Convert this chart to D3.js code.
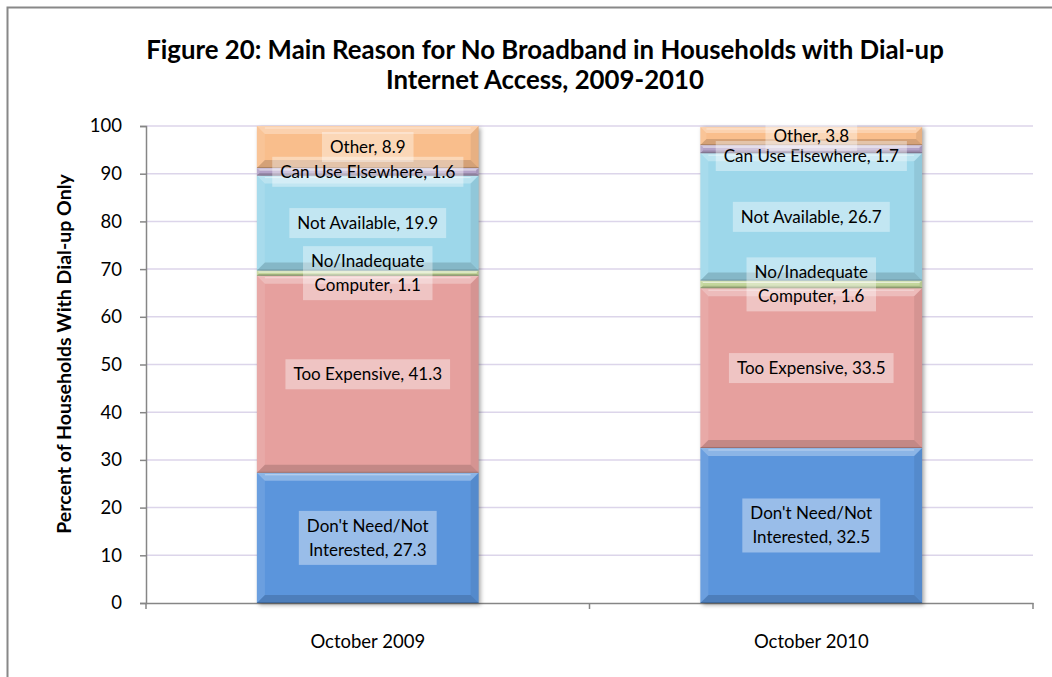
<!DOCTYPE html>
<html>
<head>
<meta charset="utf-8">
<script src="https://cdn.jsdelivr.net/npm/d3@7"></script>
<style>
  body { margin: 0; background: #fff; }
  svg { font-family: Lato, "Open Sans", sans-serif; }
  .tick text { font-family: Lato, "Open Sans", sans-serif; font-size: 18.5px; fill: #000; }
  .domain, .tick line { stroke: #868686; }
</style>
</head>
<body>
<div id="chart"></div>
<script>
// Chart data
const periods = ['October 2009', 'October 2010'];
const reasons = ["Don't Need/Not Interested", 'Too Expensive', 'No/Inadequate Computer',
                 'Not Available', 'Can Use Elsewhere', 'Other'];
// label lines per reason (Excel wraps the long ones)
const labelLines = [["Don't Need/Not", 'Interested'], ['Too Expensive'], ['No/Inadequate', 'Computer'],
                    ['Not Available'], ['Can Use Elsewhere'], ['Other']];
const values2009 = [27.3, 41.3, 1.1, 19.9, 1.6, 8.9];
const values2010 = [32.5, 33.5, 1.6, 26.7, 1.7, 3.8];
const colors = ['#5b95dc', '#e6a09e', '#c3d69b', '#9dd7ea', '#b3a2c7', '#f9be8c'];
const yTicks = [0, 10, 20, 30, 40, 50, 60, 70, 80, 90, 100];

const config = {
    width: 1052, height: 677,
    margin: {top: 126, right: 19, bottom: 74, left: 146},
    bevel: 8,
    lineHeight: 24,
    minLabelGap: 20
};

const innerWidth = config.width - config.margin.left - config.margin.right;
const innerHeight = config.height - config.margin.top - config.margin.bottom;

const svg = d3.select('#chart').append('svg')
    .attr('width', config.width)
    .attr('height', config.height);

// Outer frame (right and bottom edges fall outside the picture)
svg.append('path')
    .attr('d', `M7.5,${config.height} V7.5 H${config.width}`)
    .attr('fill', 'none').attr('stroke', '#888').attr('stroke-width', 2);

const defs = svg.append('defs');
defs.append('filter').attr('id', 'shadow')
    .attr('x', '-10%').attr('y', '-10%').attr('width', '130%').attr('height', '130%')
    .append('feGaussianBlur').attr('stdDeviation', 2);

// Title
svg.append('text')
    .attr('text-anchor', 'middle')
    .attr('font-weight', 'bold')
    .attr('font-size', '25.8px')
    .selectAll('tspan')
    .data(['Figure 20: Main Reason for No Broadband in Households with Dial-up', 'Internet Access, 2009-2010'])
    .join('tspan')
    .attr('x', 545)
    .attr('y', (d, i) => 59 + i * 30)
    .text(d => d);

const chart = svg.append('g')
    .attr('transform', `translate(${config.margin.left},${config.margin.top})`);

const x = d3.scaleBand()
    .domain(periods)
    .range([0, innerWidth])
    .paddingInner(0.5)
    .paddingOuter(0.25);

const y = d3.scaleLinear()
    .domain([0, 100])
    .range([innerHeight, 0]);

// Gridlines
chart.append('g')
    .selectAll('line')
    .data(yTicks.filter(d => d > 0))
    .join('line')
    .attr('x1', 0).attr('x2', innerWidth)
    .attr('y1', d => y(d)).attr('y2', d => y(d))
    .attr('stroke', '#dcd5ea')
    .attr('stroke-width', 1.5);

// Axes
const yAxis = chart.append('g')
    .call(d3.axisLeft(y).tickValues(yTicks).tickSize(6).tickPadding(18));
yAxis.selectAll('.domain, .tick line').attr('stroke-width', 1.5);

const xAxis = chart.append('g')
    .attr('transform', `translate(0,${innerHeight})`)
    .call(d3.axisBottom(x).tickSize(0).tickPadding(32));
xAxis.select('.domain').attr('stroke-width', 1.5);
// category separator ticks
xAxis.selectAll('.sep')
    .data([0, x.step(), innerWidth])
    .join('line')
    .attr('class', 'sep')
    .attr('x1', d => d).attr('x2', d => d)
    .attr('y1', 0).attr('y2', 6)
    .attr('stroke', '#868686').attr('stroke-width', 1.5);

// Y axis title
svg.append('text')
    .attr('transform', `translate(71,354) rotate(-90)`)
    .attr('text-anchor', 'middle')
    .attr('font-weight', 'bold')
    .attr('font-size', '19.5px')
    .text('Percent of Households With Dial-up Only');

// Stack data
const series = [values2009, values2010];
const segments = [];
series.forEach((vals, si) => {
    let base = 0;
    vals.forEach((v, ri) => {
        segments.push({period: periods[si], reason: ri, value: v, y0: base, y1: Math.min(base + v, 100)});
        base += v;
    });
});

const bw = x.bandwidth();

// Drop shadow behind bars
chart.append('g')
    .selectAll('rect')
    .data(periods)
    .join('rect')
    .attr('x', d => x(d) + 2)
    .attr('y', y(100) + 2)
    .attr('width', bw)
    .attr('height', innerHeight)
    .attr('fill', 'rgba(0,0,0,0.35)')
    .attr('filter', 'url(#shadow)');

// Segments with bevel effect
const seg = chart.append('g')
    .selectAll('g')
    .data(segments)
    .join('g')
    .attr('transform', d => `translate(${x(d.period)},${y(d.y1)})`);

seg.append('rect')
    .attr('width', bw)
    .attr('height', d => y(d.y0) - y(d.y1))
    .attr('fill', d => colors[d.reason]);

const bevelParts = [
    {fill: 'rgba(255,255,255,0.3)',
     pts: (w, h, b) => [[0, 0], [w, 0], [w - b, b], [b, b]]},
    {fill: 'rgba(255,255,255,0.1)',
     pts: (w, h, b) => [[0, 0], [b, b], [b, h - b], [0, h]]},
    {fill: 'rgba(0,0,0,0.07)',
     pts: (w, h, b) => [[w, 0], [w, h], [w - b, h - b], [w - b, b]]},
    {fill: 'rgba(0,0,0,0.15)',
     pts: (w, h, b) => [[0, h], [b, h - b], [w - b, h - b], [w, h]]}
];

seg.each(function(d) {
    const h = y(d.y0) - y(d.y1);
    const b = Math.min(config.bevel, h / 3);
    const g = d3.select(this);
    bevelParts.forEach(p => {
        g.append('polygon')
            .attr('points', p.pts(bw, h, b).map(q => q.join(',')).join(' '))
            .attr('fill', p.fill);
    });
    // thin highlight line under top edge, darker line on bottom edge
    g.append('line')
        .attr('x1', b).attr('x2', bw - b)
        .attr('y1', Math.min(2, h / 3)).attr('y2', Math.min(2, h / 3))
        .attr('stroke', 'rgba(255,255,255,0.45)').attr('stroke-width', 1);
    g.append('line')
        .attr('x1', 0).attr('x2', bw)
        .attr('y1', h - 0.5).attr('y2', h - 0.5)
        .attr('stroke', 'rgba(0,0,0,0.18)').attr('stroke-width', 1);
});

// Data labels: centered in segment, pushed apart where they would collide
const labels = segments.map(d => ({
    ...d,
    lines: labelLines[d.reason].map((t, i, arr) => i === arr.length - 1 ? `${t}, ${d.value}` : t),
    cy: (y(d.y0) + y(d.y1)) / 2
}));
periods.forEach(p => {
    const group = labels.filter(l => l.period === p).sort((a, b) => a.cy - b.cy);
    for (let i = 1; i < group.length; i++) {
        const prev = group[i - 1], cur = group[i];
        const need = (prev.lines.length + cur.lines.length) / 2 * config.lineHeight - 4;
        const gap = Math.max(config.minLabelGap, need - 6);
        if (cur.cy - prev.cy < gap) cur.cy = prev.cy + gap;
    }
});

const labelG = chart.append('g')
    .selectAll('g')
    .data(labels)
    .join('g')
    .attr('transform', d => `translate(${x(d.period) + bw / 2},${d.cy})`);

labelG.each(function(d) {
    const g = d3.select(this);
    const n = d.lines.length;
    const box = g.append('rect').attr('fill', 'rgba(255,255,255,0.38)');
    const text = g.append('text')
        .attr('text-anchor', 'middle')
        .attr('font-size', '17px')
        .attr('fill', '#000');
    text.selectAll('tspan')
        .data(d.lines)
        .join('tspan')
        .attr('x', 0)
        .attr('y', (t, i) => (i - (n - 1) / 2) * config.lineHeight)
        .attr('dy', '0.35em')
        .text(t => t);
    const bb = text.node().getBBox();
    box.attr('x', bb.x - 8)
        .attr('y', -(n * config.lineHeight + 6) / 2)
        .attr('width', bb.width + 16)
        .attr('height', n * config.lineHeight + 6);
});
</script>
</body>
</html>
